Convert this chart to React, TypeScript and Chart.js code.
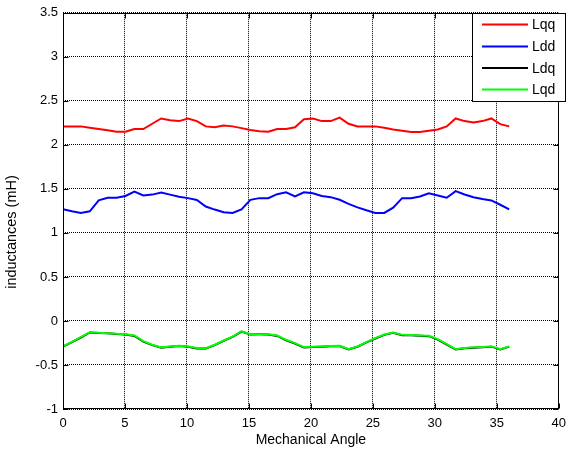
import React, { useEffect, useRef } from "react";
import { Chart, registerables } from "chart.js";

Chart.register(...registerables);

const angles = [
  0, 0.72, 1.44, 2.16, 2.88, 3.6, 4.32, 5.04, 5.76, 6.48, 7.2, 7.92, 8.64, 9.36, 10.08, 10.8, 11.52,
  12.24, 12.96, 13.68, 14.4, 15.12, 15.84, 16.56, 17.28, 18, 18.72, 19.44, 20.16, 20.88, 21.6, 22.32,
  23.04, 23.76, 24.48, 25.2, 25.92, 26.64, 27.36, 28.08, 28.8, 29.52, 30.24, 30.96, 31.68, 32.4, 33.12,
  33.84, 34.56, 35.28, 36,
];

const Lqq = [
  2.21, 2.21, 2.21, 2.195, 2.18, 2.165, 2.15, 2.15, 2.18, 2.18,
  2.24, 2.3, 2.28, 2.27, 2.3, 2.27, 2.21, 2.2, 2.22, 2.21,
  2.19, 2.17, 2.155, 2.15, 2.18, 2.18, 2.2, 2.29, 2.3, 2.27,
  2.27, 2.31, 2.24, 2.21, 2.21, 2.21, 2.195, 2.175, 2.16, 2.145,
  2.145, 2.16, 2.175, 2.21, 2.3, 2.27, 2.255, 2.27, 2.3, 2.235, 2.21,
];

const Ldd = [
  1.27, 1.245, 1.225, 1.245, 1.37, 1.4, 1.4, 1.42, 1.47, 1.425,
  1.435, 1.46, 1.435, 1.41, 1.395, 1.375, 1.3, 1.265, 1.235, 1.227,
  1.268, 1.376, 1.395, 1.395, 1.44, 1.462, 1.414, 1.462, 1.45, 1.42,
  1.406, 1.376, 1.33, 1.29, 1.257, 1.227, 1.227, 1.287, 1.395, 1.395,
  1.414, 1.45, 1.425, 1.4, 1.474, 1.436, 1.406, 1.384, 1.369, 1.32, 1.268,
];

const Ldq = [
  -0.292, -0.24, -0.188, -0.13, -0.137, -0.141, -0.148, -0.153, -0.17, -0.235,
  -0.275, -0.305, -0.293, -0.285, -0.292, -0.312, -0.314, -0.274, -0.226, -0.181,
  -0.12, -0.153, -0.152, -0.153, -0.17, -0.22, -0.258, -0.302, -0.296, -0.292,
  -0.288, -0.285, -0.324, -0.293, -0.244, -0.199, -0.158, -0.135, -0.161, -0.162,
  -0.168, -0.173, -0.212, -0.268, -0.324, -0.311, -0.303, -0.3, -0.292, -0.323, -0.292,
];

const Lqd = [
  -0.29, -0.237, -0.184, -0.128, -0.135, -0.139, -0.146, -0.15, -0.165, -0.229,
  -0.27, -0.3, -0.29, -0.282, -0.289, -0.308, -0.31, -0.27, -0.222, -0.177,
  -0.117, -0.15, -0.15, -0.15, -0.165, -0.214, -0.252, -0.297, -0.293, -0.289,
  -0.285, -0.282, -0.32, -0.29, -0.241, -0.195, -0.154, -0.132, -0.158, -0.16,
  -0.165, -0.169, -0.207, -0.263, -0.32, -0.308, -0.3, -0.297, -0.289, -0.32, -0.289,
];

const seriesNames = ["Lqq", "Ldd", "Ldq", "Lqd"];
const seriesColors = ["#ff0000", "#0000ff", "#000000", "#00ff00"];
const xTicks = [0, 5, 10, 15, 20, 25, 30, 35, 40];
const yTicks = [-1, -0.5, 0, 0.5, 1, 1.5, 2, 2.5, 3, 3.5];
const xTitle = "Mechanical Angle";
const yTitle = "inductances (mH)";

const FONT = "'Liberation Sans', Arial, Helvetica, sans-serif";

const framePlugin = {
  id: "frame",
  afterDatasetsDraw(chart: any) {
    const { ctx, chartArea: a, scales } = chart;
    ctx.save();
    ctx.strokeStyle = "#000";
    ctx.lineWidth = 1;
    ctx.setLineDash([]);
    const L = Math.round(a.left) + 0.5;
    const R = Math.round(a.right) - 0.5;
    const T = Math.round(a.top) + 0.5;
    const B = Math.round(a.bottom) - 0.5;
    ctx.strokeRect(L, T, R - L, B - T);
    const tl = 5;
    ctx.beginPath();
    for (const v of xTicks) {
      const x = Math.round(scales.x.getPixelForValue(v)) + 0.5;
      ctx.moveTo(x, B);
      ctx.lineTo(x, B - tl);
      ctx.moveTo(x, T);
      ctx.lineTo(x, T + tl);
    }
    for (const v of yTicks) {
      const y = Math.round(scales.y.getPixelForValue(v)) + 0.5;
      ctx.moveTo(L, y);
      ctx.lineTo(L + tl, y);
      ctx.moveTo(R, y);
      ctx.lineTo(R - tl, y);
    }
    ctx.stroke();

    // y-axis title (drawn manually to match placement)
    ctx.save();
    ctx.translate(12, 232);
    ctx.rotate(-Math.PI / 2);
    ctx.font = `14.5px ${FONT}`;
    ctx.fillStyle = "#000";
    ctx.textAlign = "center";
    ctx.textBaseline = "middle";
    ctx.fillText(yTitle, 0, 0);
    ctx.restore();

    // legend box (inside axes, top right)
    const bx = 472.5;
    const by = 13.5;
    const bw = 93;
    const bh = 88;
    ctx.fillStyle = "#fff";
    ctx.fillRect(bx, by, bw, bh);
    ctx.strokeRect(bx, by, bw, bh);
    ctx.font = `14px ${FONT}`;
    ctx.textBaseline = "middle";
    ctx.textAlign = "left";
    const rows = [24.5, 46.5, 68, 89.5];
    seriesNames.forEach((name, i) => {
      ctx.strokeStyle = seriesColors[i];
      ctx.lineWidth = 2;
      ctx.beginPath();
      ctx.moveTo(482, rows[i]);
      ctx.lineTo(528, rows[i]);
      ctx.stroke();
      ctx.fillStyle = "#000";
      ctx.fillText(name, 532, rows[i] + 1);
    });
    ctx.restore();
  },
};

export default function App() {
  const ref = useRef<HTMLCanvasElement | null>(null);
  useEffect(() => {
    document.body.style.margin = "0";
    const seriesData = [Lqq, Ldd, Ldq, Lqd];
    const orders = [3, 2, 1, 0];
    const chart = new Chart(ref.current as HTMLCanvasElement, {
      type: "line",
      data: {
        datasets: seriesData.map((arr, i) => ({
          label: seriesNames[i],
          data: angles.map((x, j) => ({ x, y: arr[j] })),
          borderColor: seriesColors[i],
          backgroundColor: seriesColors[i],
          borderWidth: 2,
          pointRadius: 0,
          tension: 0,
          fill: false,
          order: orders[i],
        })),
      },
      options: {
        animation: false,
        responsive: false,
        devicePixelRatio: 1,
        layout: { padding: { left: 0, right: 5, top: 12, bottom: 0 } },
        plugins: { legend: { display: false }, tooltip: { enabled: false } },
        scales: {
          x: {
            type: "linear",
            min: 0,
            max: 40,
            afterBuildTicks: (s: any) => {
              s.ticks = xTicks.map((v) => ({ value: v }));
            },
            afterFit: (s: any) => {
              s.height = 46;
            },
            grid: { color: "#000", lineWidth: 1, drawTicks: false },
            border: { display: false, dash: [1, 1] },
            ticks: {
              color: "#000",
              padding: 7,
              maxRotation: 0,
              font: { family: FONT, size: 13 },
              callback: (v: any) => String(v),
            },
            title: {
              display: true,
              text: xTitle,
              color: "#000",
              font: { family: FONT, size: 14 },
              padding: { top: 0, bottom: 6 },
            },
          },
          y: {
            type: "linear",
            min: -1,
            max: 3.5,
            afterBuildTicks: (s: any) => {
              s.ticks = yTicks.map((v) => ({ value: v }));
            },
            afterFit: (s: any) => {
              s.width = 63;
            },
            grid: { color: "#000", lineWidth: 1, drawTicks: false },
            border: { display: false, dash: [1, 1] },
            ticks: {
              color: "#000",
              padding: 5,
              font: { family: FONT, size: 13 },
              callback: (v: any) => String(v),
            },
            title: { display: false },
          },
        },
      },
      plugins: [framePlugin],
    });
    return () => chart.destroy();
  }, []);
  return (
    <div style={{ width: 573, height: 455, background: "#fff" }}>
      <canvas ref={ref} width={573} height={455} style={{ display: "block" }} />
    </div>
  );
}
